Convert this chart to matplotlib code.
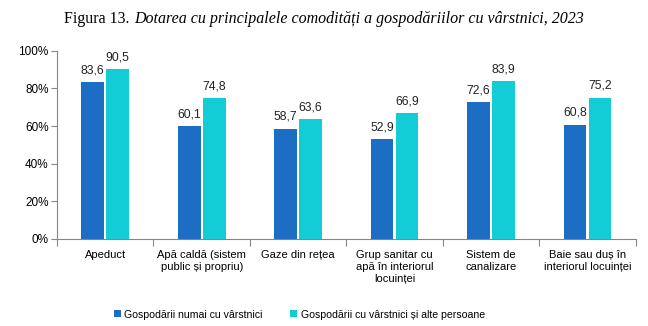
import numpy as np
import matplotlib.pyplot as plt

plt.rcParams['font.family'] = ['Liberation Sans', 'DejaVu Sans']

categories = ['Apeduct', 'Apă caldă (sistem\npublic și propriu)', 'Gaze din rețea',
              'Grup sanitar cu\napă în interiorul\nlocuinței', 'Sistem de\ncanalizare',
              'Baie sau duș în\ninteriorul locuinței']
only_elderly = [83.6, 60.1, 58.7, 52.9, 72.6, 60.8]
mixed = [90.5, 74.8, 63.6, 66.9, 83.9, 75.2]
series_names = ['Gospodării numai cu vârstnici', 'Gospodării cu vârstnici și alte persoane']
colors = ['#1B6EC4', '#12CCD6']

fig = plt.figure(figsize=(6.48, 3.26), dpi=100)
ax = fig.add_axes([0.088, 0.267, 0.893, 0.577])

x = np.arange(len(categories))
w = 0.235
gap = 0.012
b1 = ax.bar(x - w / 2 - gap, only_elderly, w, color=colors[0], label=series_names[0])
b2 = ax.bar(x + w / 2 + gap, mixed, w, color=colors[1], label=series_names[1])

for bars, vals in ((b1, only_elderly), (b2, mixed)):
    for rect, v in zip(bars, vals):
        ax.text(rect.get_x() + rect.get_width() / 2, v + 3, f'{v:.1f}'.replace('.', ','),
                ha='center', va='bottom', fontsize=8.7, color='#222222')

ax.set_xlim(-0.5, len(categories) - 0.5)
ax.set_ylim(0, 100)
ax.set_yticks(range(0, 101, 20))
ax.set_yticklabels([f'{t}%' for t in range(0, 101, 20)], fontsize=8.5)

# category labels sit between the boundary ticks
ax.set_xticks(np.arange(len(categories) + 1) - 0.5)
ax.set_xticklabels([])
ax.set_xticks(x, minor=True)
ax.set_xticklabels(categories, minor=True, fontsize=8, va='top', linespacing=1.25)
ax.tick_params(axis='x', which='minor', length=0, pad=8)
ax.tick_params(axis='x', which='major', length=5, color='#868686')
ax.tick_params(axis='y', length=4, color='#868686', pad=2)

for s in ('top', 'right'):
    ax.spines[s].set_visible(False)
for s in ('left', 'bottom'):
    ax.spines[s].set_color('#868686')

fig.legend(handles=[b1, b2], loc='center', bbox_to_anchor=(0.462, 0.035), ncol=2, frameon=False,
           fontsize=7.6, handlelength=0.65, handleheight=0.65, handletextpad=0.35,
           columnspacing=2.6)

# title: plain prefix followed by italic text
fig.canvas.draw()
r = fig.canvas.get_renderer()
t1 = fig.text(0.12, 0.943, 'Figura 13. ', family='Liberation Serif', fontsize=11.5, va='center')
t2 = fig.text(0, 0.943, 'Dotarea cu principalele comodități a gospodăriilor cu vârstnici, 2023',
              family='Liberation Serif', style='italic', fontsize=11.5, va='center')
w1 = t1.get_window_extent(r).width / fig.bbox.width
w2 = t2.get_window_extent(r).width / fig.bbox.width
start = 0.5 - (w1 + w2) / 2
t1.set_x(start)
t2.set_x(start + w1)

fig.savefig('out.png', dpi=100)
